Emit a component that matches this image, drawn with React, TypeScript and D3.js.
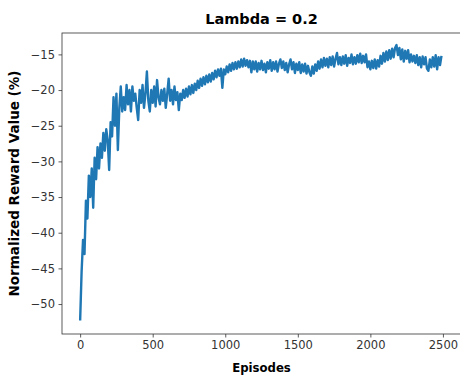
import React, { useEffect, useRef } from "react";
import * as d3 from "d3";

// one reading every 10 episodes
const STEP = 10;
const rewards = [
  -52.3, -45.5, -41.0, -43.0, -35.5, -38.0, -32.0, -35.0, -31.0, -36.5,
  -29.5, -32.5, -28.0, -31.0, -27.5, -29.5, -26.0, -28.5, -25.5, -27.0,
  -31.2, -24.5, -26.5, -21.0, -25.0, -20.5, -28.4, -22.5, -19.5, -23.0,
  -21.0, -22.8, -19.3, -22.0, -20.0, -23.0, -19.5, -21.5, -20.5, -22.5,
  -24.2, -20.0, -21.8, -19.3, -22.5, -20.5, -17.4, -21.5, -23.0, -20.0,
  -21.8, -19.5, -22.3, -18.6, -21.0, -22.0, -20.0, -21.5, -19.8, -22.5,
  -20.5, -18.4, -21.5, -20.0, -22.0, -19.5, -21.4, -20.3, -22.8, -20.5,
  -21.4, -20.0, -21.1, -19.8, -20.9, -19.5, -20.6, -19.3, -20.4, -19.1,
  -20.0, -18.7, -19.7, -18.4, -19.4, -18.2, -19.2, -18.0, -18.9, -17.8,
  -18.8, -17.6, -18.5, -17.3, -18.2, -17.1, -18.0, -17.0, -19.7, -17.1,
  -17.8, -16.7, -17.5, -16.4, -17.3, -16.2, -17.1, -16.1, -17.0, -16.0,
  -16.8, -15.7, -16.7, -15.6, -16.6, -15.8, -16.8, -15.9, -17.5, -16.0,
  -17.1, -16.0, -17.4, -16.2, -17.1, -15.9, -17.2, -16.3, -17.5, -16.1,
  -17.0, -15.8, -17.3, -16.1, -17.1, -16.0, -17.4, -16.3, -15.7, -16.9,
  -16.0, -17.2, -16.2, -17.5, -16.4, -15.7, -17.1, -16.1, -17.6, -16.3,
  -17.2, -16.1, -17.6, -16.4, -17.4, -16.3, -17.7, -16.6, -17.5, -18.0,
  -16.7, -17.7, -16.4, -17.3, -16.0, -17.0, -15.7, -16.8, -15.5, -16.6,
  -15.6, -16.8, -15.4, -16.5, -15.3, -16.7, -15.6, -14.8, -16.4, -15.4,
  -16.5, -15.3, -16.3, -15.1, -16.6, -15.5, -16.2, -15.0, -16.4, -15.4,
  -16.3, -15.1, -16.1, -14.9, -16.2, -15.2, -16.1, -15.0, -16.8, -16.0,
  -17.1, -15.9, -16.9, -15.7, -17.0, -15.8, -16.7, -15.2, -16.3, -14.8,
  -16.0, -14.6, -15.8, -14.4, -15.6, -14.2, -15.4, -14.1, -13.7, -15.1,
  -14.1, -15.7, -14.3, -16.0, -14.5, -15.6, -14.4, -16.1, -15.0, -16.0,
  -15.2, -16.2, -15.1, -16.5, -15.4, -16.8, -15.3, -16.4, -15.4, -17.0,
  -17.3, -15.7, -16.8, -15.4, -16.7, -15.1, -17.1, -15.4, -16.5, -15.2,
];
const xTicks = [0, 500, 1000, 1500, 2000, 2500];
const yTicks = [-50, -45, -40, -35, -30, -25, -20, -15];

const W = 460;
const H = 381;
const FONT = "'DejaVu Sans', sans-serif";

export default function App() {
  const ref = useRef<SVGSVGElement>(null);

  useEffect(() => {
    const svg = d3.select(ref.current);
    svg.selectAll("*").remove();

    const left = 62, right = 461, top = 33, bottom = 334;

    const x = d3.scaleLinear().domain([-125, 2624.5]).range([left, right]);
    const y = d3.scaleLinear().domain([-54.2, -12.0]).range([bottom, top]);

    const data = rewards.map((v, i) => ({ ep: i * STEP, v }));

    // curve
    const line = d3.line<{ ep: number; v: number }>()
      .x(d => x(d.ep))
      .y(d => y(d.v));

    svg.append("path")
      .datum(data)
      .attr("d", line)
      .attr("fill", "none")
      .attr("stroke", "#1f77b4")
      .attr("stroke-width", 2.4)
      .attr("stroke-linejoin", "round");

    // axes
    const gx = svg.append("g")
      .attr("transform", `translate(0,${bottom})`)
      .call(d3.axisBottom(x).tickValues(xTicks).tickSize(3.5).tickPadding(3.5).tickFormat(d3.format("d")));
    const gy = svg.append("g")
      .attr("transform", `translate(${left},0)`)
      .call(d3.axisLeft(y).tickValues(yTicks).tickSize(3.5).tickPadding(3.5).tickFormat(d3.format("d")));

    [gx, gy].forEach(g => {
      g.select(".domain").remove();
      g.selectAll("line").attr("stroke", "#333").attr("stroke-width", 0.8);
      g.selectAll("text")
        .attr("fill", "#333")
        .style("font-family", FONT)
        .style("font-size", "11.5px");
    });

    // spines
    svg.append("rect")
      .attr("x", left)
      .attr("y", top)
      .attr("width", right - left)
      .attr("height", bottom - top)
      .attr("fill", "none")
      .attr("stroke", "#333")
      .attr("stroke-width", 0.8);

    // titles
    svg.append("text")
      .attr("x", (left + right) / 2)
      .attr("y", 24)
      .attr("text-anchor", "middle")
      .style("font-family", FONT)
      .style("font-weight", "bold")
      .style("font-size", "14.5px")
      .text("Lambda = 0.2");

    svg.append("text")
      .attr("x", (left + right) / 2)
      .attr("y", 372)
      .attr("text-anchor", "middle")
      .style("font-family", FONT)
      .style("font-weight", "bold")
      .style("font-size", "11.7px")
      .text("Episodes");

    svg.append("text")
      .attr("transform", `translate(19,${(top + bottom) / 2}) rotate(-90)`)
      .attr("text-anchor", "middle")
      .style("font-family", FONT)
      .style("font-weight", "bold")
      .style("font-size", "13.5px")
      .text("Normalized Reward Value (%)");
  }, []);

  return (
    <svg
      ref={ref}
      width={W}
      height={H}
      style={{ position: "absolute", left: 0, top: 0, background: "white" }}
    />
  );
}
